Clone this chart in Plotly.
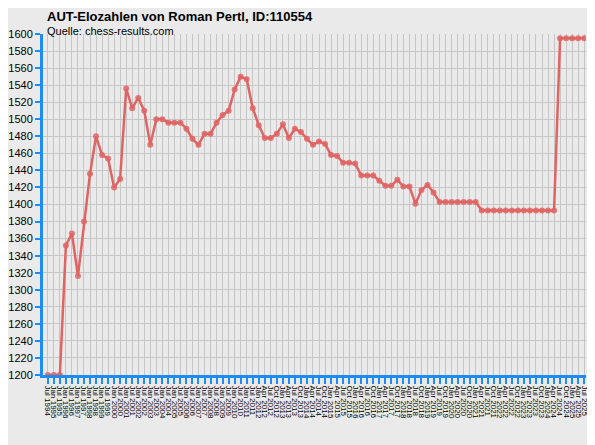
import plotly.graph_objects as go

# Elo values per rating list
elo = [1200, 1200, 1200, 1352, 1366, 1316, 1380, 1436, 1480, 1458,
       1454, 1420, 1430, 1536, 1513, 1525, 1510, 1470, 1500, 1500,
       1496, 1496, 1496, 1489, 1477, 1470, 1483, 1483, 1496, 1505,
       1510, 1535, 1550, 1547, 1513, 1493, 1478, 1478, 1483, 1494,
       1478, 1489, 1485, 1477, 1470, 1474, 1471, 1458, 1457, 1449,
       1449, 1448, 1434, 1434, 1434, 1428, 1422, 1422, 1429, 1421,
       1421, 1401, 1417, 1423, 1414, 1403, 1403, 1403, 1403, 1403,
       1403, 1403, 1393, 1393, 1393, 1393, 1393, 1393, 1393, 1393,
       1393, 1393, 1393, 1393, 1393, 1595, 1595, 1595, 1595, 1595]

# rating list dates: half-yearly until Jan 2012, quarterly afterwards
half_years = ["Jul 1994"] + [f"{m} {y}" for y in range(1995, 2012) for m in ("Jan", "Jul")] + ["Jan 2012"]
quarters = [f"{m} {y}" for y in range(2012, 2026) for m in ("Jan", "Apr", "Jul", "Oct")]
quarters = quarters[quarters.index("Apr 2012"):quarters.index("Jul 2025") + 1]
list_dates = half_years + quarters

y_ticks = list(range(1200, 1601, 20))

bg = "#EAEAEA"
blue = "#1E8CF5"
red = "#E06464"

fig = go.Figure()
fig.add_trace(go.Scatter(
    x=list(range(len(elo))),
    y=elo,
    mode="lines+markers",
    line=dict(color=red, width=2.5),
    marker=dict(color=red, size=6, opacity=0.85),
    hovertemplate="%{text}: %{y}<extra></extra>",
    text=list_dates,
))

# the page body adds an 8px margin, so the figure is a bit smaller than the window
fig.update_layout(
    width=587,
    height=437,
    paper_bgcolor=bg,
    plot_bgcolor=bg,
    margin=dict(l=35, r=9, t=26, b=70),
    showlegend=False,
    font=dict(family="Liberation Sans, Arial, sans-serif", color="black"),
)

# header lines, positioned in pixels above the plot area
fig.add_annotation(text="<b>AUT-Elozahlen von Roman Pertl, ID:110554</b>",
                   xref="paper", yref="paper", x=0.004, y=1.0, yshift=18,
                   xanchor="left", yanchor="middle", showarrow=False,
                   font=dict(size=13))
fig.add_annotation(text="Quelle: chess-results.com",
                   xref="paper", yref="paper", x=0.004, y=1.0, yshift=3.5,
                   xanchor="left", yanchor="middle", showarrow=False,
                   font=dict(size=11))

fig.update_xaxes(
    range=[-0.8, len(elo) - 0.7],
    tickmode="array",
    tickvals=list(range(len(list_dates))),
    ticktext=list_dates,
    tickangle=90,
    tickfont=dict(size=8),
    showgrid=True,
    gridcolor="#C6C6C6",
    gridwidth=1,
    showline=True,
    linecolor=blue,
    linewidth=3,
    ticks="outside",
    ticklen=6,
    tickwidth=2,
    tickcolor=blue,
    zeroline=False,
    automargin=False,
)
fig.update_yaxes(
    range=[1200, 1600],
    tickmode="array",
    tickvals=y_ticks,
    tickfont=dict(size=11),
    showgrid=True,
    gridcolor="#C6C6C6",
    gridwidth=1,
    showline=True,
    linecolor=blue,
    linewidth=3,
    ticks="outside",
    ticklen=5,
    tickwidth=2,
    tickcolor=blue,
    zeroline=False,
    automargin=False,
)

fig.write_html("out.html")
